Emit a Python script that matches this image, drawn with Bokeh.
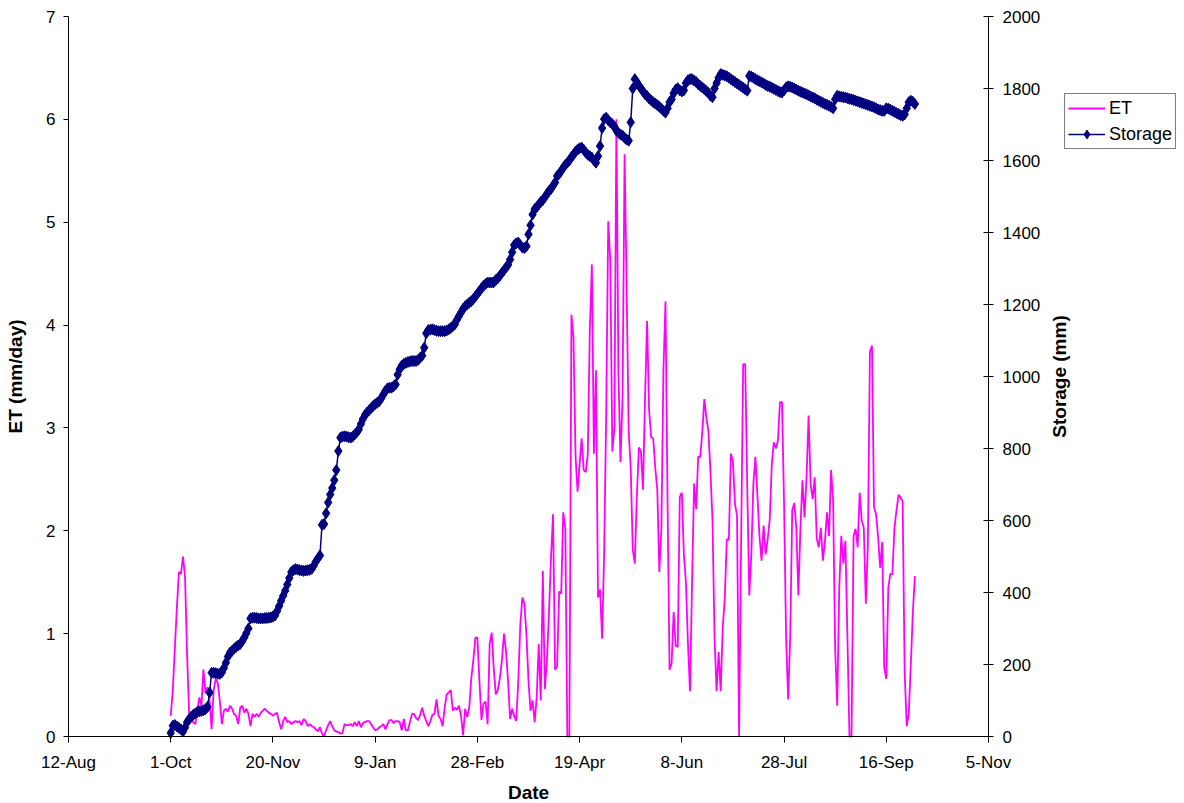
import math
import pandas as pd
from bokeh.plotting import figure
from bokeh.models import (Range1d, LinearAxis, FixedTicker, Legend, LegendItem, Label)
from bokeh.embed import file_html
from bokeh.resources import INLINE

# ---------------- data (daily, starting 1-Oct) ----------------
start_date = "2004-10-01"

et = [
    0.20, 0.45, 0.85, 1.25, 1.60, 1.58, 1.75, 1.55, 0.80, 0.22,
    0.15, 0.14, 0.12, 0.25, 0.38, 0.30, 0.65, 0.42, 0.48, 0.35,
    0.07, 0.45, 0.56, 0.52, 0.35, 0.12, 0.25, 0.27, 0.24, 0.30,
    0.27, 0.22, 0.20, 0.12, 0.28, 0.30, 0.23, 0.27, 0.22, 0.10,
    0.22, 0.19, 0.22, 0.19, 0.23, 0.25, 0.27, 0.25, 0.23, 0.22,
    0.20, 0.22, 0.23, 0.14, 0.07, 0.15, 0.19, 0.14, 0.15, 0.12,
    0.14, 0.15, 0.14, 0.15, 0.11, 0.17, 0.15, 0.10, 0.12, 0.10,
    0.09, 0.07, 0.05, 0.09, 0.03, 0.00, 0.06, 0.11, 0.15, 0.10,
    0.06, 0.05, 0.04, 0.03, 0.03, 0.12, 0.11, 0.11, 0.12, 0.10,
    0.14, 0.10, 0.15, 0.09, 0.13, 0.14, 0.15, 0.15, 0.12, 0.09,
    0.06, 0.07, 0.09, 0.10, 0.12, 0.07, 0.12, 0.16, 0.16, 0.13,
    0.15, 0.15, 0.14, 0.06, 0.17, 0.06, 0.06, 0.14, 0.22, 0.22,
    0.18, 0.16, 0.21, 0.28, 0.20, 0.15, 0.10, 0.15, 0.21, 0.22,
    0.36, 0.20, 0.17, 0.10, 0.28, 0.41, 0.43, 0.45, 0.25, 0.28,
    0.26, 0.30, 0.20, 0.01, 0.27, 0.19, 0.28, 0.56, 0.74, 0.96,
    0.96, 0.54, 0.16, 0.32, 0.34, 0.12, 0.90, 1.01, 0.66, 0.41,
    0.45, 0.57, 0.74, 1.00, 0.83, 0.54, 0.17, 0.27, 0.20, 0.15,
    0.54, 1.09, 1.35, 1.29, 0.99, 0.54, 0.25, 0.35, 0.14, 0.38,
    0.90, 0.35, 1.61, 0.46, 0.74, 1.19, 1.74, 2.16, 0.65, 0.68,
    1.41, 1.39, 2.18, 2.02, 0.00, 0.00, 4.10, 3.88, 2.73, 2.38,
    2.65, 2.90, 2.59, 2.57, 2.75, 3.96, 4.59, 2.75, 3.56, 1.35,
    1.43, 0.95, 1.78, 3.13, 5.01, 4.63, 2.77, 3.00, 6.00, 3.52,
    2.67, 3.30, 5.66, 4.36, 2.97, 2.61, 1.82, 1.68, 2.34, 2.81,
    2.77, 2.40, 3.29, 4.04, 3.17, 2.91, 2.90, 2.61, 2.40, 1.60,
    2.02, 3.56, 4.23, 2.30, 0.65, 0.71, 1.21, 0.88, 0.87, 2.33,
    2.37, 1.77, 1.50, 0.90, 0.44, 1.50, 2.46, 2.21, 2.72, 2.72,
    2.96, 3.28, 3.10, 2.97, 2.57, 2.10, 0.96, 0.44, 0.82, 0.44,
    1.06, 1.34, 1.92, 1.91, 2.75, 2.67, 2.26, 2.15, 0.00, 1.90,
    3.62, 3.62, 2.42, 1.37, 1.77, 2.46, 2.72, 2.33, 1.94, 1.71,
    2.05, 1.77, 1.92, 2.11, 2.65, 2.86, 2.80, 2.88, 3.25, 3.25,
    2.27, 0.96, 0.36, 0.96, 2.20, 2.27, 2.03, 1.37, 2.02, 2.49,
    2.13, 2.52, 3.12, 2.45, 2.31, 2.52, 1.92, 1.84, 2.03, 1.71,
    1.90, 2.18, 1.95, 2.59, 2.29, 0.85, 0.30, 1.45, 1.95, 1.68,
    1.90, 0.96, 0.00, 0.00, 1.95, 2.02, 1.84, 2.37, 2.10, 2.03,
    1.29, 1.87, 3.74, 3.80, 2.23, 2.16, 1.94, 1.64, 1.89, 0.67,
    0.56, 1.45, 1.58, 1.58, 2.03, 2.20, 2.35, 2.32, 2.29, 0.62,
    0.10, 0.22, 0.70, 1.21, 1.56,
]

storage = [
    10, 30, 32, 28, 24, 20, 14, 25, 40, 48,
    55, 60, 64, 68, 70, 71, 73, 76, 82, 122,
    177, 177, 176, 174, 174, 178, 190, 205, 222, 233,
    238, 244, 249, 253, 257, 265, 275, 287, 300, 328,
    330, 330, 329, 328, 328, 328, 329, 329, 330, 331,
    333, 336, 348, 362, 377, 391, 405, 422, 440, 457,
    462, 465, 464, 462, 461, 460, 461, 462, 463, 466,
    475, 486, 495, 503, 588, 590, 620, 650, 672, 690,
    712, 740, 793, 830, 833, 834, 833, 831, 830, 833,
    839, 845, 853, 868, 882, 893, 900, 906, 912, 918,
    923, 927, 931, 940, 950, 960, 967, 969, 969, 973,
    978, 1005, 1020, 1030, 1035, 1038, 1040, 1042, 1043, 1043,
    1043, 1046, 1052, 1058, 1080, 1120, 1129, 1130, 1131, 1129,
    1127, 1126, 1126, 1126, 1126, 1128, 1131, 1135, 1140, 1145,
    1158, 1168, 1178, 1188, 1195, 1200, 1205, 1209, 1215, 1222,
    1230, 1237, 1245, 1252, 1257, 1261, 1261, 1261, 1262, 1268,
    1273, 1280, 1288, 1295, 1303, 1310, 1325, 1345, 1365, 1370,
    1372, 1365, 1358, 1357, 1362, 1395, 1420, 1450, 1465, 1470,
    1478, 1485, 1490, 1498, 1507, 1515, 1521, 1530, 1539, 1557,
    1563, 1571, 1580, 1588, 1594, 1600, 1610, 1616, 1625, 1630,
    1634, 1636, 1630, 1622, 1616, 1612, 1608, 1600, 1594, 1612,
    1640, 1690, 1715, 1719, 1712, 1706, 1701, 1695, 1683, 1677,
    1672, 1669, 1663, 1658, 1655, 1706, 1800, 1826, 1818, 1808,
    1800, 1792, 1784, 1779, 1772, 1767, 1762, 1758, 1754, 1749,
    1744, 1738, 1733, 1745, 1762, 1770, 1787, 1797, 1801, 1795,
    1792, 1795, 1815, 1823, 1826, 1826, 1822, 1818, 1812, 1807,
    1803, 1798, 1793, 1788, 1780, 1776, 1800, 1815, 1830, 1840,
    1838, 1836, 1834, 1830, 1826, 1822, 1818, 1814, 1810, 1806,
    1802, 1798, 1794, 1835, 1833, 1830, 1826, 1823, 1820, 1817,
    1814, 1810, 1807, 1805, 1802, 1799, 1796, 1793, 1790, 1789,
    1795, 1803, 1806, 1805, 1803, 1800, 1797, 1794, 1791, 1789,
    1786, 1784, 1781, 1778, 1775, 1773, 1769, 1766, 1763, 1760,
    1757, 1755, 1752, 1749, 1745, 1770, 1780, 1778, 1777, 1776,
    1775, 1773, 1771, 1770, 1768, 1766, 1764, 1762, 1760, 1758,
    1756, 1754, 1752, 1750, 1748, 1745, 1742, 1740, 1738, 1738,
    1745, 1744, 1741, 1738, 1735, 1732, 1729, 1726, 1724, 1728,
    1745, 1762, 1766, 1763, 1757,
]

tick_dates = ["2004-08-12", "2004-10-01", "2004-11-20", "2005-01-09", "2005-02-28",
              "2005-04-19", "2005-06-08", "2005-07-28", "2005-09-16", "2005-11-05"]
tick_labels = ["12-Aug", "1-Oct", "20-Nov", "9-Jan", "28-Feb",
               "19-Apr", "8-Jun", "28-Jul", "16-Sep", "5-Nov"]
et_ticks = [0, 1, 2, 3, 4, 5, 6, 7]
storage_ticks = [0, 200, 400, 600, 800, 1000, 1200, 1400, 1600, 1800, 2000]

# ---------------- geometry (page pixels) ----------------
FONT = "Liberation Sans"
dates = pd.date_range(start_date, periods=len(et), freq="D")


def ms(s):
    return int(pd.Timestamp(s).value // 10**6)


FRAME_LEFT, FRAME_RIGHT = 0, 1183     # frame spans the page so no text is clipped
FRAME_TOP, FRAME_BOTTOM = 4, 801
AXIS_LEFT, AXIS_RIGHT = 68, 988       # 12-Aug .. 5-Nov
AXIS_TOP, AXIS_BOTTOM = 16, 736       # ET 7 .. ET 0

x0, x1 = ms(tick_dates[0]), ms(tick_dates[-1])
ms_per_px = (x1 - x0) / (AXIS_RIGHT - AXIS_LEFT)
x_start = x0 - (AXIS_LEFT - FRAME_LEFT) * ms_per_px
x_end = x1 + (FRAME_RIGHT - AXIS_RIGHT) * ms_per_px

et_lo, et_hi = et_ticks[0], et_ticks[-1]
et_per_px = (et_hi - et_lo) / (AXIS_BOTTOM - AXIS_TOP)
y_top = et_hi + (AXIS_TOP - FRAME_TOP) * et_per_px
y_bot = et_lo - (FRAME_BOTTOM - AXIS_BOTTOM) * et_per_px
s_lo, s_hi = storage_ticks[0], storage_ticks[-1]
s_scale = (s_hi - s_lo) / (et_hi - et_lo)

p = figure(frame_width=FRAME_RIGHT - FRAME_LEFT, frame_height=FRAME_BOTTOM - FRAME_TOP,
           x_axis_type="datetime",
           x_range=Range1d(x_start, x_end), y_range=Range1d(y_bot, y_top),
           output_backend="svg", toolbar_location=None,
           min_border_left=FRAME_LEFT, min_border_right=0, min_border_top=FRAME_TOP,
           min_border_bottom=1)
p.extra_y_ranges = {"storage": Range1d(s_lo + (y_bot - et_lo) * s_scale,
                                       s_lo + (y_top - et_lo) * s_scale)}
p.grid.visible = False
p.outline_line_color = None
p.background_fill_color = "white"
p.border_fill_color = "white"

et_r = p.line(dates, et, line_color="#FF00FF", line_width=1.8)
st_line = p.line(dates, storage, line_color="#000080", line_width=1.5,
                 y_range_name="storage")
st_pts = p.scatter(dates, storage, marker="diamond", size=11,
                   fill_color="#000080", line_color="#000080",
                   y_range_name="storage")

# x axis pinned at ET = 0
xt = [ms(d) for d in tick_dates]
xa = p.xaxis[0]
xa.ticker = FixedTicker(ticks=xt)
xa.major_label_overrides = dict(zip(xt, tick_labels))
xa.bounds = (x0, x1)
xa.fixed_location = et_lo
xa.axis_label = "Date"
xa.major_tick_out = 6
xa.major_tick_in = 0
xa.major_label_standoff = 10
xa.axis_label_standoff = 7

# left axis pinned at 12-Aug
ya = p.yaxis[0]
ya.ticker = FixedTicker(ticks=et_ticks)
ya.bounds = (et_lo, et_hi)
ya.fixed_location = x0
ya.axis_label = "ET (mm/day)"
ya.major_tick_out = 5
ya.major_tick_in = 0
ya.major_label_standoff = 8
ya.axis_label_standoff = 17

# right axis pinned at 5-Nov
ra = LinearAxis(y_range_name="storage", ticker=FixedTicker(ticks=storage_ticks),
                fixed_location=x1, bounds=(s_lo, s_hi))
ra.major_tick_out = 5
ra.major_tick_in = 5
ra.major_label_standoff = 9
p.add_layout(ra, "right")

for ax in [xa, ya, ra]:
    ax.axis_line_color = "black"
    ax.axis_line_width = 1
    ax.major_tick_line_color = "black"
    ax.minor_tick_line_color = None
    ax.major_label_text_font = FONT
    ax.major_label_text_font_size = "17px"
    ax.major_label_text_color = "black"
    ax.axis_label_text_font = FONT
    ax.axis_label_text_font_size = "19px"
    ax.axis_label_text_font_style = "bold"
    ax.axis_label_text_color = "black"

# right-hand axis title (frame-relative screen units; y measured from frame bottom)
p.add_layout(Label(x=1059 - FRAME_LEFT, y=FRAME_BOTTOM - 376,
                   x_units="screen", y_units="screen",
                   text="Storage (mm)", angle=math.pi / 2,
                   text_align="center", text_baseline="middle",
                   text_font=FONT, text_font_size="19px",
                   text_font_style="bold", text_color="black"))

legend = Legend(items=[LegendItem(label="ET", renderers=[et_r]),
                       LegendItem(label="Storage", renderers=[st_line, st_pts])],
                location=(1064 - FRAME_LEFT, FRAME_BOTTOM - 149))
legend.border_line_color = "black"
legend.border_line_width = 1
legend.background_fill_color = "white"
legend.background_fill_alpha = 1
legend.padding = 3
legend.spacing = 4
legend.margin = 0
legend.glyph_width = 37
legend.glyph_height = 22
legend.label_height = 18
legend.label_standoff = 4
legend.label_text_font = FONT
legend.label_text_font_size = "18px"
legend.label_text_color = "black"
p.add_layout(legend, "center")

open("out.html", "w").write(file_html(p, INLINE))
